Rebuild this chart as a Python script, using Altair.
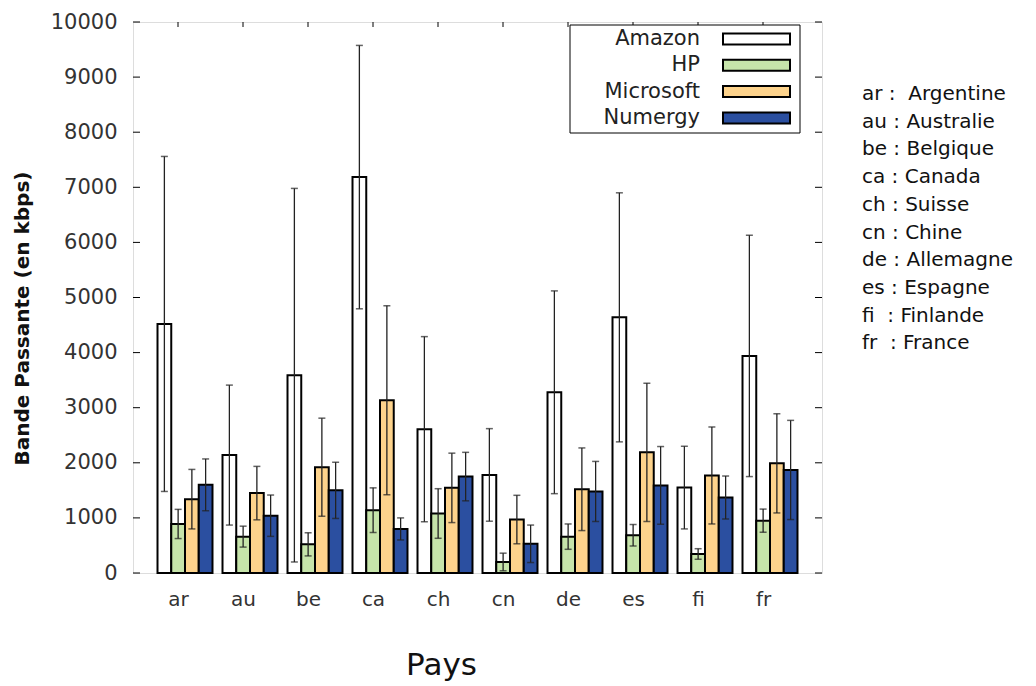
import altair as alt
import pandas as pd

pays = ["ar", "au", "be", "ca", "ch", "cn", "de", "es", "fi", "fr"]
series = ["Amazon", "HP", "Microsoft", "Numergy"]

amazon = [4520, 2140, 3590, 7185, 2610, 1780, 3280, 4640, 1550, 3940]
amazon_err = [3040, 1270, 3390, 2390, 1680, 840, 1840, 2260, 750, 2190]
hp = [890, 660, 520, 1140, 1080, 200, 660, 685, 345, 950]
hp_err = [265, 190, 210, 405, 450, 160, 230, 195, 96, 210]
microsoft = [1340, 1450, 1920, 3135, 1545, 970, 1520, 2190, 1770, 1990]
microsoft_err = [540, 485, 890, 1715, 630, 440, 750, 1255, 880, 900]
numergy = [1600, 1040, 1500, 800, 1750, 530, 1480, 1590, 1370, 1870]
numergy_err = [470, 375, 510, 200, 440, 340, 545, 705, 390, 900]

y_ticks = [0, 1000, 2000, 3000, 4000, 5000, 6000, 7000, 8000, 9000, 10000]

noms = [
    "ar :\u00a0\u00a0Argentine",
    "au : Australie",
    "be : Belgique",
    "ca : Canada",
    "ch : Suisse",
    "cn : Chine",
    "de : Allemagne",
    "es : Espagne",
    "fi\u00a0\u00a0: Finlande",
    "fr\u00a0\u00a0: France",
]

colors = ["#ffffff", "#c6e4aa", "#fdd38c", "#2b4fa0"]

rows = []
for s, vals, errs in [
    ("Amazon", amazon, amazon_err),
    ("HP", hp, hp_err),
    ("Microsoft", microsoft, microsoft_err),
    ("Numergy", numergy, numergy_err),
]:
    for p, v, e in zip(pays, vals, errs):
        rows.append({"pays": p, "serie": s, "val": v, "lo": v - e, "hi": v + e})
df = pd.DataFrame(rows)

W, H = 689, 551
FONT = "DejaVu Sans"

xscale = alt.Scale(domain=pays, paddingInner=0.154, paddingOuter=0.377)
xoff = alt.XOffset("serie:N", sort=series, scale=alt.Scale(domain=series, paddingInner=0, paddingOuter=0))
yscale = alt.Scale(domain=[0, 10000], nice=False)

base = alt.Chart(df)

bars = base.mark_bar(stroke="black", strokeWidth=2).encode(
    x=alt.X("pays:N", scale=xscale, sort=pays,
            axis=alt.Axis(title="Pays", labelAngle=0, ticks=False, domain=False,
                          labelFontSize=20, labelFont=FONT, labelColor="#333",
                          labelPadding=16, tickOffset=-7,
                          titleFontSize=31, titleFont=FONT, titleFontWeight="normal",
                          titleColor="#111", titleAnchor="start", titleX=308, titleY=92,
                          titleAlign="center", titleBaseline="middle")),
    xOffset=xoff,
    y=alt.Y("val:Q", scale=yscale,
            axis=alt.Axis(title="Bande Passante (en kbps)", values=y_ticks, format="d",
                          ticks=False, domain=False, grid=False, labelFontSize=21,
                          labelFont=FONT, labelColor="#333", labelPadding=16,
                          titleFontSize=20, titleFont=FONT, titleFontWeight="bold",
                          titleColor="#111", titleX=-111, titleY=296, titleAlign="center",
                          titleBaseline="middle", titleAngle=270)),
    fill=alt.Fill("serie:N", scale=alt.Scale(domain=series, range=colors), legend=None),
)

err_line = base.mark_rule(color="#222", strokeWidth=1.3).encode(
    x=alt.X("pays:N", scale=xscale, sort=pays),
    xOffset=xoff,
    y=alt.Y("lo:Q", scale=yscale),
    y2="hi:Q",
)
cap_hi = base.mark_tick(color="#222", thickness=1.5, size=7, orient="horizontal").encode(
    x=alt.X("pays:N", scale=xscale, sort=pays),
    xOffset=xoff,
    y=alt.Y("hi:Q", scale=yscale),
)
cap_lo = base.mark_tick(color="#222", thickness=1.5, size=7, orient="horizontal").encode(
    x=alt.X("pays:N", scale=xscale, sort=pays),
    xOffset=xoff,
    y=alt.Y("lo:Q", scale=yscale),
)

df_yt = pd.DataFrame({"yt": y_ticks})
left_ticks = alt.Chart(df_yt).mark_rule(color="black").encode(
    y=alt.Y("yt:Q", scale=yscale), x=alt.value(0), x2=alt.value(7))
right_ticks = alt.Chart(df_yt).mark_rule(color="black").encode(
    y=alt.Y("yt:Q", scale=yscale), x=alt.value(W - 7), x2=alt.value(W))

df_p = pd.DataFrame({"pays": pays})
top_ticks = alt.Chart(df_p).mark_rule(color="black", xOffset=-7).encode(
    x=alt.X("pays:N", scale=xscale, sort=pays), y=alt.value(0), y2=alt.value(5))

one = pd.DataFrame({"k": [0]})
legend_layers = [
    alt.Chart(one).mark_rect(fill="white", stroke="black", strokeWidth=1).encode(
        x=alt.value(437), x2=alt.value(667), y=alt.value(3), y2=alt.value(111))
]
for i, s in enumerate(series):
    yc = 17 + i * 26.3
    legend_layers.append(
        alt.Chart(one).mark_rect(fill=colors[i], stroke="black", strokeWidth=2).encode(
            x=alt.value(590), x2=alt.value(657), y=alt.value(yc - 5.5), y2=alt.value(yc + 5.5)))
    legend_layers.append(
        alt.Chart(one).mark_text(align="right", baseline="middle", fontSize=21, font=FONT,
                                 color="#222").encode(
            x=alt.value(567), y=alt.value(yc), text=alt.value(s)))

names_text = alt.Chart(one).mark_text(
    align="left", baseline="middle", fontSize=20, font=FONT, color="#111", lineHeight=27.7
).encode(x=alt.value(729), y=alt.value(72), text=alt.value(noms))

chart = alt.layer(
    bars, err_line, cap_hi, cap_lo, left_ticks, right_ticks, top_ticks,
    *legend_layers, names_text
).properties(
    width=W, height=H,
    autosize=alt.AutoSizeParams(type="none"),
    padding={"left": 125, "top": 14, "right": 206, "bottom": 109},
).configure_view(stroke="black", strokeWidth=1.2).configure(background="white")

chart.save("out.html", embed_options={"renderer": "svg", "actions": False})
